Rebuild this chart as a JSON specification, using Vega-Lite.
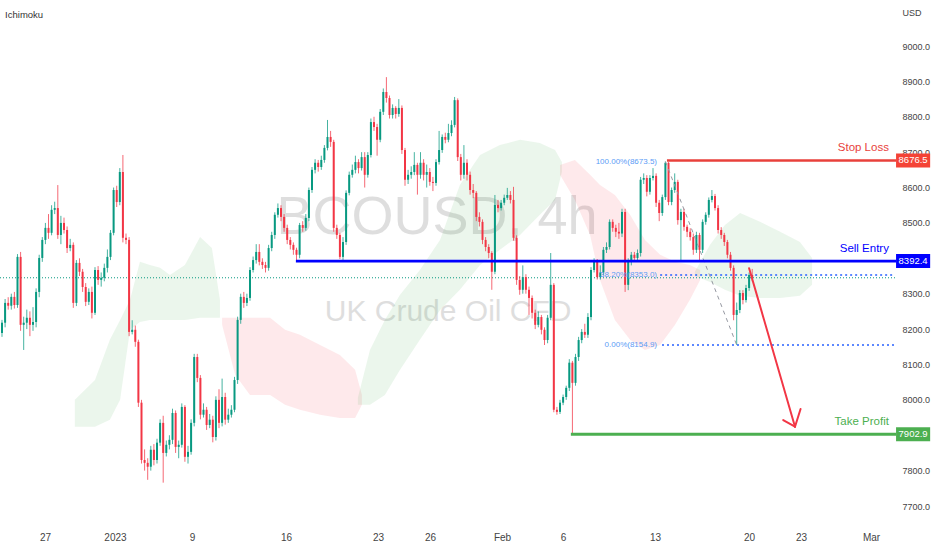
{
  "$schema": "https://vega.github.io/schema/vega-lite/v6.json",
  "width": 895,
  "height": 522,
  "padding": {"left": 0, "top": 0, "right": 37, "bottom": 28},
  "autosize": {"type": "none"},
  "background": "white",
  "config": {"view": {"stroke": null}, "font": "Liberation Sans, Arial, sans-serif"},
  "datasets": {
    "candles": [
{"i":0,"o":8189,"h":8226,"l":8178,"c":8218},
{"i":1,"o":8218,"h":8285,"l":8205,"c":8274},
{"i":2,"o":8274,"h":8290,"l":8255,"c":8266},
{"i":3,"o":8266,"h":8300,"l":8255,"c":8291},
{"i":4,"o":8291,"h":8305,"l":8258,"c":8268},
{"i":5,"o":8268,"h":8412,"l":8260,"c":8404},
{"i":6,"o":8404,"h":8418,"l":8195,"c":8212},
{"i":7,"o":8212,"h":8235,"l":8141,"c":8218},
{"i":8,"o":8218,"h":8255,"l":8200,"c":8232},
{"i":9,"o":8232,"h":8250,"l":8180,"c":8212},
{"i":10,"o":8212,"h":8262,"l":8195,"c":8220},
{"i":11,"o":8220,"h":8315,"l":8205,"c":8305},
{"i":12,"o":8305,"h":8410,"l":8290,"c":8401},
{"i":13,"o":8401,"h":8460,"l":8390,"c":8452},
{"i":14,"o":8452,"h":8500,"l":8440,"c":8486},
{"i":15,"o":8486,"h":8525,"l":8455,"c":8472},
{"i":16,"o":8472,"h":8550,"l":8465,"c":8537},
{"i":17,"o":8537,"h":8560,"l":8525,"c":8542},
{"i":18,"o":8542,"h":8607,"l":8455,"c":8466},
{"i":19,"o":8466,"h":8520,"l":8440,"c":8500},
{"i":20,"o":8500,"h":8515,"l":8470,"c":8480},
{"i":21,"o":8480,"h":8490,"l":8415,"c":8429},
{"i":22,"o":8429,"h":8455,"l":8420,"c":8438},
{"i":23,"o":8438,"h":8445,"l":8260,"c":8274},
{"i":24,"o":8274,"h":8395,"l":8265,"c":8387},
{"i":25,"o":8387,"h":8400,"l":8350,"c":8362},
{"i":26,"o":8362,"h":8370,"l":8305,"c":8319},
{"i":27,"o":8319,"h":8330,"l":8265,"c":8277},
{"i":28,"o":8277,"h":8315,"l":8268,"c":8305},
{"i":29,"o":8305,"h":8320,"l":8230,"c":8246},
{"i":30,"o":8246,"h":8375,"l":8240,"c":8367},
{"i":31,"o":8367,"h":8378,"l":8325,"c":8339},
{"i":32,"o":8339,"h":8360,"l":8320,"c":8345},
{"i":33,"o":8345,"h":8385,"l":8335,"c":8373},
{"i":34,"o":8373,"h":8425,"l":8360,"c":8404},
{"i":35,"o":8404,"h":8480,"l":8395,"c":8472},
{"i":36,"o":8472,"h":8600,"l":8465,"c":8593},
{"i":37,"o":8593,"h":8605,"l":8545,"c":8559},
{"i":38,"o":8559,"h":8655,"l":8550,"c":8644},
{"i":39,"o":8644,"h":8692,"l":8445,"c":8458},
{"i":40,"o":8458,"h":8470,"l":8440,"c":8452},
{"i":41,"o":8452,"h":8460,"l":8180,"c":8192},
{"i":42,"o":8192,"h":8225,"l":8185,"c":8198},
{"i":43,"o":8198,"h":8210,"l":8150,"c":8164},
{"i":44,"o":8164,"h":8170,"l":7980,"c":7992},
{"i":45,"o":7992,"h":8000,"l":7820,"c":7830},
{"i":46,"o":7830,"h":7860,"l":7800,"c":7822},
{"i":47,"o":7822,"h":7835,"l":7774,"c":7811},
{"i":48,"o":7811,"h":7870,"l":7800,"c":7859},
{"i":49,"o":7859,"h":7875,"l":7815,"c":7830},
{"i":50,"o":7830,"h":7890,"l":7820,"c":7879},
{"i":51,"o":7879,"h":7945,"l":7870,"c":7935},
{"i":52,"o":7935,"h":7955,"l":7766,"c":7850},
{"i":53,"o":7850,"h":7885,"l":7840,"c":7873},
{"i":54,"o":7873,"h":7900,"l":7860,"c":7887},
{"i":55,"o":7887,"h":7975,"l":7875,"c":7963},
{"i":56,"o":7963,"h":7970,"l":7850,"c":7867},
{"i":57,"o":7867,"h":7885,"l":7835,"c":7873},
{"i":58,"o":7873,"h":7990,"l":7865,"c":7980},
{"i":59,"o":7980,"h":7985,"l":7825,"c":7839},
{"i":60,"o":7839,"h":7870,"l":7820,"c":7853},
{"i":61,"o":7853,"h":7945,"l":7845,"c":7935},
{"i":62,"o":7935,"h":8130,"l":7925,"c":8121},
{"i":63,"o":8121,"h":8130,"l":8050,"c":8062},
{"i":64,"o":8062,"h":8070,"l":7945,"c":7958},
{"i":65,"o":7958,"h":7990,"l":7950,"c":7972},
{"i":66,"o":7972,"h":7980,"l":7915,"c":7929},
{"i":67,"o":7929,"h":7960,"l":7920,"c":7944},
{"i":68,"o":7944,"h":7955,"l":7880,"c":7895},
{"i":69,"o":7895,"h":8010,"l":7885,"c":8000},
{"i":70,"o":8000,"h":8030,"l":7920,"c":7935},
{"i":71,"o":7935,"h":8060,"l":7925,"c":8008},
{"i":72,"o":8008,"h":8020,"l":7930,"c":7944},
{"i":73,"o":7944,"h":7975,"l":7935,"c":7958},
{"i":74,"o":7958,"h":7985,"l":7950,"c":7972},
{"i":75,"o":7972,"h":8065,"l":7965,"c":8056},
{"i":76,"o":8056,"h":8235,"l":8045,"c":8226},
{"i":77,"o":8226,"h":8300,"l":8215,"c":8291},
{"i":78,"o":8291,"h":8305,"l":8260,"c":8274},
{"i":79,"o":8274,"h":8300,"l":8265,"c":8288},
{"i":80,"o":8288,"h":8375,"l":8280,"c":8367},
{"i":81,"o":8367,"h":8405,"l":8360,"c":8395},
{"i":82,"o":8395,"h":8440,"l":8385,"c":8418},
{"i":83,"o":8418,"h":8440,"l":8380,"c":8390},
{"i":84,"o":8390,"h":8400,"l":8370,"c":8381},
{"i":85,"o":8381,"h":8390,"l":8360,"c":8373},
{"i":86,"o":8373,"h":8438,"l":8365,"c":8429},
{"i":87,"o":8429,"h":8475,"l":8420,"c":8466},
{"i":88,"o":8466,"h":8530,"l":8455,"c":8523},
{"i":89,"o":8523,"h":8555,"l":8515,"c":8542},
{"i":90,"o":8542,"h":8550,"l":8505,"c":8517},
{"i":91,"o":8517,"h":8525,"l":8475,"c":8486},
{"i":92,"o":8486,"h":8495,"l":8440,"c":8452},
{"i":93,"o":8452,"h":8460,"l":8425,"c":8438},
{"i":94,"o":8438,"h":8445,"l":8410,"c":8424},
{"i":95,"o":8424,"h":8430,"l":8392,"c":8410},
{"i":96,"o":8410,"h":8500,"l":8400,"c":8494},
{"i":97,"o":8494,"h":8505,"l":8475,"c":8486},
{"i":98,"o":8486,"h":8525,"l":8478,"c":8514},
{"i":99,"o":8514,"h":8600,"l":8505,"c":8593},
{"i":100,"o":8593,"h":8658,"l":8585,"c":8650},
{"i":101,"o":8650,"h":8680,"l":8640,"c":8670},
{"i":102,"o":8670,"h":8678,"l":8645,"c":8658},
{"i":103,"o":8658,"h":8690,"l":8650,"c":8678},
{"i":104,"o":8678,"h":8720,"l":8670,"c":8712},
{"i":105,"o":8712,"h":8791,"l":8705,"c":8743},
{"i":106,"o":8743,"h":8760,"l":8715,"c":8729},
{"i":107,"o":8729,"h":8735,"l":8475,"c":8486},
{"i":108,"o":8486,"h":8495,"l":8455,"c":8466},
{"i":109,"o":8466,"h":8472,"l":8398,"c":8404},
{"i":110,"o":8404,"h":8460,"l":8395,"c":8446},
{"i":111,"o":8446,"h":8592,"l":8438,"c":8585},
{"i":112,"o":8585,"h":8645,"l":8578,"c":8636},
{"i":113,"o":8636,"h":8665,"l":8628,"c":8650},
{"i":114,"o":8650,"h":8690,"l":8640,"c":8672},
{"i":115,"o":8672,"h":8680,"l":8640,"c":8655},
{"i":116,"o":8655,"h":8700,"l":8648,"c":8686},
{"i":117,"o":8686,"h":8700,"l":8600,"c":8636},
{"i":118,"o":8636,"h":8700,"l":8628,"c":8692},
{"i":119,"o":8692,"h":8795,"l":8685,"c":8785},
{"i":120,"o":8785,"h":8800,"l":8760,"c":8771},
{"i":121,"o":8771,"h":8780,"l":8690,"c":8735},
{"i":122,"o":8735,"h":8822,"l":8728,"c":8814},
{"i":123,"o":8814,"h":8880,"l":8805,"c":8870},
{"i":124,"o":8870,"h":8912,"l":8840,"c":8853},
{"i":125,"o":8853,"h":8860,"l":8795,"c":8805},
{"i":126,"o":8805,"h":8835,"l":8795,"c":8825},
{"i":127,"o":8825,"h":8830,"l":8795,"c":8808},
{"i":128,"o":8808,"h":8850,"l":8800,"c":8825},
{"i":129,"o":8825,"h":8832,"l":8695,"c":8706},
{"i":130,"o":8706,"h":8712,"l":8605,"c":8622},
{"i":131,"o":8622,"h":8650,"l":8610,"c":8636},
{"i":132,"o":8636,"h":8660,"l":8625,"c":8644},
{"i":133,"o":8644,"h":8700,"l":8635,"c":8664},
{"i":134,"o":8664,"h":8670,"l":8580,"c":8636},
{"i":135,"o":8636,"h":8700,"l":8625,"c":8670},
{"i":136,"o":8670,"h":8680,"l":8620,"c":8636},
{"i":137,"o":8636,"h":8665,"l":8600,"c":8644},
{"i":138,"o":8644,"h":8655,"l":8605,"c":8616},
{"i":139,"o":8616,"h":8630,"l":8590,"c":8613},
{"i":140,"o":8613,"h":8680,"l":8605,"c":8672},
{"i":141,"o":8672,"h":8760,"l":8665,"c":8706},
{"i":142,"o":8706,"h":8750,"l":8698,"c":8743},
{"i":143,"o":8743,"h":8755,"l":8725,"c":8735},
{"i":144,"o":8735,"h":8780,"l":8728,"c":8754},
{"i":145,"o":8754,"h":8790,"l":8745,"c":8777},
{"i":146,"o":8777,"h":8856,"l":8770,"c":8847},
{"i":147,"o":8847,"h":8852,"l":8675,"c":8686},
{"i":148,"o":8686,"h":8695,"l":8620,"c":8636},
{"i":149,"o":8636,"h":8720,"l":8625,"c":8670},
{"i":150,"o":8670,"h":8680,"l":8620,"c":8636},
{"i":151,"o":8636,"h":8645,"l":8580,"c":8593},
{"i":152,"o":8593,"h":8610,"l":8570,"c":8585},
{"i":153,"o":8585,"h":8590,"l":8505,"c":8517},
{"i":154,"o":8517,"h":8530,"l":8490,"c":8503},
{"i":155,"o":8503,"h":8510,"l":8440,"c":8452},
{"i":156,"o":8452,"h":8460,"l":8420,"c":8432},
{"i":157,"o":8432,"h":8440,"l":8400,"c":8415},
{"i":158,"o":8415,"h":8420,"l":8311,"c":8362},
{"i":159,"o":8362,"h":8579,"l":8355,"c":8551},
{"i":160,"o":8551,"h":8565,"l":8530,"c":8542},
{"i":161,"o":8542,"h":8565,"l":8535,"c":8557},
{"i":162,"o":8557,"h":8580,"l":8550,"c":8571},
{"i":163,"o":8571,"h":8599,"l":8565,"c":8579},
{"i":164,"o":8579,"h":8590,"l":8555,"c":8565},
{"i":165,"o":8565,"h":8602,"l":8450,"c":8458},
{"i":166,"o":8458,"h":8465,"l":8325,"c":8339},
{"i":167,"o":8339,"h":8350,"l":8297,"c":8311},
{"i":168,"o":8311,"h":8380,"l":8300,"c":8347},
{"i":169,"o":8347,"h":8355,"l":8300,"c":8311},
{"i":170,"o":8311,"h":8320,"l":8240,"c":8288},
{"i":171,"o":8288,"h":8295,"l":8230,"c":8246},
{"i":172,"o":8246,"h":8255,"l":8200,"c":8212},
{"i":173,"o":8212,"h":8250,"l":8205,"c":8234},
{"i":174,"o":8234,"h":8240,"l":8185,"c":8198},
{"i":175,"o":8198,"h":8205,"l":8155,"c":8169},
{"i":176,"o":8169,"h":8240,"l":8160,"c":8232},
{"i":177,"o":8232,"h":8415,"l":8225,"c":8325},
{"i":178,"o":8325,"h":8330,"l":7965,"c":7972},
{"i":179,"o":7972,"h":7980,"l":7958,"c":7966},
{"i":180,"o":7966,"h":8000,"l":7960,"c":7992},
{"i":181,"o":7992,"h":8015,"l":7985,"c":8008},
{"i":182,"o":8008,"h":8040,"l":8000,"c":8034},
{"i":183,"o":8034,"h":8115,"l":8025,"c":8105},
{"i":184,"o":8105,"h":8110,"l":7903,"c":8048},
{"i":185,"o":8048,"h":8130,"l":8040,"c":8121},
{"i":186,"o":8121,"h":8178,"l":8110,"c":8169},
{"i":187,"o":8169,"h":8200,"l":8160,"c":8192},
{"i":188,"o":8192,"h":8215,"l":8175,"c":8184},
{"i":189,"o":8184,"h":8245,"l":8175,"c":8234},
{"i":190,"o":8234,"h":8375,"l":8225,"c":8367},
{"i":191,"o":8367,"h":8400,"l":8360,"c":8390},
{"i":192,"o":8390,"h":8398,"l":8340,"c":8347},
{"i":193,"o":8347,"h":8380,"l":8340,"c":8360},
{"i":194,"o":8360,"h":8432,"l":8352,"c":8424},
{"i":195,"o":8424,"h":8445,"l":8415,"c":8432},
{"i":196,"o":8432,"h":8510,"l":8425,"c":8503},
{"i":197,"o":8503,"h":8510,"l":8475,"c":8486},
{"i":198,"o":8486,"h":8495,"l":8460,"c":8475},
{"i":199,"o":8475,"h":8500,"l":8455,"c":8470},
{"i":200,"o":8470,"h":8540,"l":8460,"c":8531},
{"i":201,"o":8531,"h":8540,"l":8305,"c":8325},
{"i":202,"o":8325,"h":8400,"l":8310,"c":8390},
{"i":203,"o":8390,"h":8418,"l":8380,"c":8410},
{"i":204,"o":8410,"h":8418,"l":8390,"c":8401},
{"i":205,"o":8401,"h":8425,"l":8392,"c":8415},
{"i":206,"o":8415,"h":8630,"l":8405,"c":8622},
{"i":207,"o":8622,"h":8640,"l":8610,"c":8627},
{"i":208,"o":8627,"h":8635,"l":8575,"c":8588},
{"i":209,"o":8588,"h":8635,"l":8580,"c":8627},
{"i":210,"o":8627,"h":8655,"l":8620,"c":8633},
{"i":211,"o":8633,"h":8640,"l":8545,"c":8557},
{"i":212,"o":8557,"h":8565,"l":8505,"c":8528},
{"i":213,"o":8528,"h":8580,"l":8520,"c":8573},
{"i":214,"o":8573,"h":8673.5,"l":8565,"c":8670},
{"i":215,"o":8670,"h":8672,"l":8550,"c":8559},
{"i":216,"o":8559,"h":8600,"l":8550,"c":8593},
{"i":217,"o":8593,"h":8640,"l":8585,"c":8616},
{"i":218,"o":8616,"h":8622,"l":8495,"c":8508},
{"i":219,"o":8508,"h":8540,"l":8390,"c":8531},
{"i":220,"o":8531,"h":8540,"l":8478,"c":8489},
{"i":221,"o":8489,"h":8495,"l":8460,"c":8475},
{"i":222,"o":8475,"h":8485,"l":8450,"c":8460},
{"i":223,"o":8460,"h":8470,"l":8410,"c":8424},
{"i":224,"o":8424,"h":8475,"l":8415,"c":8466},
{"i":225,"o":8466,"h":8472,"l":8395,"c":8424},
{"i":226,"o":8424,"h":8510,"l":8415,"c":8503},
{"i":227,"o":8503,"h":8530,"l":8495,"c":8523},
{"i":228,"o":8523,"h":8572,"l":8515,"c":8565},
{"i":229,"o":8565,"h":8593,"l":8558,"c":8576},
{"i":230,"o":8576,"h":8582,"l":8535,"c":8542},
{"i":231,"o":8542,"h":8550,"l":8470,"c":8480},
{"i":232,"o":8480,"h":8488,"l":8455,"c":8466},
{"i":233,"o":8466,"h":8472,"l":8435,"c":8446},
{"i":234,"o":8446,"h":8452,"l":8400,"c":8410},
{"i":235,"o":8410,"h":8418,"l":8365,"c":8373},
{"i":236,"o":8373,"h":8380,"l":8225,"c":8240},
{"i":237,"o":8240,"h":8275,"l":8154.9,"c":8254},
{"i":238,"o":8254,"h":8310,"l":8245,"c":8302},
{"i":239,"o":8302,"h":8310,"l":8270,"c":8282},
{"i":240,"o":8282,"h":8325,"l":8275,"c":8316},
{"i":241,"o":8316,"h":8360,"l":8308,"c":8353},
{"i":242,"o":8353,"h":8370,"l":8335,"c":8345}
    ],
    "cloud": [
{"seg":"G1","kind":"up","i":23.5,"top":8000,"bot":7924},
{"seg":"G1","kind":"up","i":30.0,"top":8056,"bot":7924},
{"seg":"G1","kind":"up","i":34.8,"top":8170,"bot":7944},
{"seg":"G1","kind":"up","i":38.1,"top":8226,"bot":8000},
{"seg":"G1","kind":"up","i":41.3,"top":8283,"bot":8198},
{"seg":"G1","kind":"up","i":44.5,"top":8390,"bot":8220},
{"seg":"G1","kind":"up","i":47.7,"top":8381,"bot":8226},
{"seg":"G1","kind":"up","i":51.0,"top":8373,"bot":8226},
{"seg":"G1","kind":"up","i":54.2,"top":8353,"bot":8226},
{"seg":"G1","kind":"up","i":59.0,"top":8381,"bot":8226},
{"seg":"G1","kind":"up","i":63.9,"top":8460,"bot":8232},
{"seg":"G1","kind":"up","i":67.7,"top":8429,"bot":8232},
{"seg":"G1","kind":"up","i":70.3,"top":8283,"bot":8232},
{"seg":"R1","kind":"down","i":71.0,"top":8232,"bot":8212},
{"seg":"R1","kind":"down","i":75.2,"top":8232,"bot":8071},
{"seg":"R1","kind":"down","i":80.0,"top":8232,"bot":8014},
{"seg":"R1","kind":"down","i":86.5,"top":8232,"bot":8014},
{"seg":"R1","kind":"down","i":91.3,"top":8198,"bot":7986},
{"seg":"R1","kind":"down","i":96.1,"top":8184,"bot":7972},
{"seg":"R1","kind":"down","i":102.6,"top":8155,"bot":7958},
{"seg":"R1","kind":"down","i":109.0,"top":8127,"bot":7949},
{"seg":"R1","kind":"down","i":113.9,"top":8085,"bot":7949},
{"seg":"R1","kind":"down","i":116.1,"top":8014,"bot":7986},
{"seg":"G2","kind":"up","i":114.8,"top":8006,"bot":7986},
{"seg":"G2","kind":"up","i":118.7,"top":8141,"bot":7986},
{"seg":"G2","kind":"up","i":123.5,"top":8226,"bot":8014},
{"seg":"G2","kind":"up","i":128.4,"top":8297,"bot":8085},
{"seg":"G2","kind":"up","i":134.8,"top":8367,"bot":8170},
{"seg":"G2","kind":"up","i":141.3,"top":8452,"bot":8254},
{"seg":"G2","kind":"up","i":147.7,"top":8607,"bot":8311},
{"seg":"G2","kind":"up","i":154.2,"top":8692,"bot":8381},
{"seg":"G2","kind":"up","i":160.6,"top":8720,"bot":8424},
{"seg":"G2","kind":"up","i":167.1,"top":8735,"bot":8466},
{"seg":"G2","kind":"up","i":173.5,"top":8726,"bot":8523},
{"seg":"G2","kind":"up","i":178.4,"top":8706,"bot":8565},
{"seg":"G2","kind":"up","i":180.6,"top":8672,"bot":8644},
{"seg":"R2","kind":"down","i":180.0,"top":8664,"bot":8636},
{"seg":"R2","kind":"down","i":184.8,"top":8678,"bot":8565},
{"seg":"R2","kind":"down","i":189.7,"top":8636,"bot":8466},
{"seg":"R2","kind":"down","i":192.9,"top":8607,"bot":8339},
{"seg":"R2","kind":"down","i":197.7,"top":8579,"bot":8226},
{"seg":"R2","kind":"down","i":202.6,"top":8523,"bot":8170},
{"seg":"R2","kind":"down","i":207.4,"top":8452,"bot":8141},
{"seg":"R2","kind":"down","i":212.3,"top":8410,"bot":8155},
{"seg":"R2","kind":"down","i":217.1,"top":8390,"bot":8212},
{"seg":"R2","kind":"down","i":221.9,"top":8381,"bot":8283},
{"seg":"R2","kind":"down","i":225.2,"top":8367,"bot":8339},
{"seg":"G3","kind":"up","i":223.5,"top":8362,"bot":8350},
{"seg":"G3","kind":"up","i":228.4,"top":8438,"bot":8333},
{"seg":"G3","kind":"up","i":233.2,"top":8494,"bot":8311},
{"seg":"G3","kind":"up","i":238.1,"top":8528,"bot":8294},
{"seg":"G3","kind":"up","i":244.5,"top":8503,"bot":8288},
{"seg":"G3","kind":"up","i":251.0,"top":8475,"bot":8288},
{"seg":"G3","kind":"up","i":257.4,"top":8446,"bot":8294},
{"seg":"G3","kind":"up","i":261.3,"top":8401,"bot":8325}
    ],
    "levels": [
      {"name": "Stop Loss", "price": 8676.5, "from": 214.5},
      {"name": "Sell Entry", "price": 8392.4, "from": 94.8},
      {"name": "Take Profit", "price": 7902.9, "from": 183.5}
    ],
    "fib": [
      {"label": "100.00%(8673.5)", "price": 8673.5, "from": 214.5},
      {"label": "38.20%(8353.0)", "price": 8353.0, "from": 212.3},
      {"label": "0.00%(8154.9)", "price": 8154.9, "from": 212.9}
    ],
    "fibline": [{"i1": 214, "p1": 8673.5, "i2": 237, "p2": 8154.9}],
    "arrow": [
      {"i1": 241.0, "p1": 8372, "i2": 255.8, "p2": 7924},
      {"i1": 255.8, "p1": 7924, "i2": 252.0, "p2": 7943},
      {"i1": 255.8, "p1": 7924, "i2": 257.6, "p2": 7974}
    ],
    "last": [{"price": 8345}]
  },
  "resolve": {"scale": {"color": "independent", "size": "independent"}},
  "layer": [
    {
      "data": {"values": [{}]},
      "mark": {"type": "text", "text": "BCOUSD, 4h", "fontSize": 54, "color": "#9e9e9e", "opacity": 0.33, "align": "center", "baseline": "middle"},
      "encoding": {
        "x": {"datum": 140.3, "type": "quantitative", "scale": {"domain": [-0.645, 288.06], "nice": false, "zero": false}},
        "y": {"datum": 8514, "type": "quantitative", "scale": {"domain": [7654.8, 9130], "nice": false, "zero": false}}
      }
    },
    {
      "data": {"values": [{}]},
      "mark": {"type": "text", "text": "UK Crude Oil CFD", "fontSize": 30, "color": "#9e9e9e", "opacity": 0.33, "align": "center", "baseline": "middle"},
      "encoding": {
        "x": {"datum": 143.9, "type": "quantitative"},
        "y": {"datum": 8249, "type": "quantitative"}
      }
    },
    {
      "data": {"name": "cloud"},
      "mark": {"type": "area", "opacity": 0.11},
      "encoding": {
        "x": {"field": "i", "type": "quantitative"},
        "y": {"field": "top", "type": "quantitative"},
        "y2": {"field": "bot"},
        "detail": {"field": "seg"},
        "color": {"field": "kind", "type": "nominal", "scale": {"domain": ["up", "down"], "range": ["#4caf50", "#f23645"]}, "legend": null}
      }
    },
    {
      "data": {"name": "last"},
      "mark": {"type": "rule", "color": "#089981", "strokeWidth": 1, "strokeDash": [1, 2]},
      "encoding": {"y": {"field": "price", "type": "quantitative"}}
    },
    {
      "data": {"name": "candles"},
      "mark": {"type": "rule", "strokeWidth": 1, "opacity": 0.75},
      "encoding": {
        "x": {"field": "i", "type": "quantitative", "scale": {"domain": [-0.645, 288.06], "nice": false, "zero": false},
          "axis": {"orient": "bottom", "title": null, "grid": false, "domain": false, "ticks": false, "labelPadding": 10, "labelFontSize": 10, "labelColor": "#444444", "labelOverlap": false, "labelFlush": false,
            "values": [13.87, 36.45, 61.29, 91.61, 121.29, 138.06, 161.29, 180.97, 210.65, 240.97, 257.74, 280.32],
            "labelExpr": "datum.value < 20 ? '27' : datum.value < 50 ? '2023' : datum.value < 70 ? '9' : datum.value < 100 ? '16' : datum.value < 130 ? '23' : datum.value < 150 ? '26' : datum.value < 170 ? 'Feb' : datum.value < 190 ? '6' : datum.value < 220 ? '13' : datum.value < 250 ? '20' : datum.value < 270 ? '23' : 'Mar'"}},
        "y": {"field": "l", "type": "quantitative", "scale": {"domain": [7654.8, 9130], "nice": false, "zero": false},
          "axis": {"orient": "right", "grid": false, "domain": false, "ticks": false, "labelPadding": 7, "labelAlign": "left", "labelFontSize": 9, "labelColor": "#444444", "labelOverlap": false, "labelFlush": false, "format": ".1f",
            "values": [7700, 7800, 8000, 8100, 8200, 8300, 8500, 8600, 8700, 8800, 8900, 9000],
            "title": "USD", "titleAngle": 0, "titleAnchor": "end", "titleAlign": "left", "titleBaseline": "middle", "titleX": 7, "titleY": 12, "titleFontSize": 9, "titleFontWeight": "normal", "titleColor": "#444444"}},
        "y2": {"field": "h"},
        "color": {"condition": {"test": "datum.c >= datum.o", "value": "#089981"}, "value": "#f23645"}
      }
    },
    {
      "data": {"name": "candles"},
      "mark": {"type": "rule", "strokeWidth": 2},
      "encoding": {
        "x": {"field": "i", "type": "quantitative"},
        "y": {"field": "o", "type": "quantitative"},
        "y2": {"field": "c"},
        "color": {"condition": {"test": "datum.c >= datum.o", "value": "#089981"}, "value": "#f23645"}
      }
    },
    {
      "data": {"name": "fib"},
      "transform": [{"filter": "datum.price < 8600"}],
      "mark": {"type": "rule", "color": "#2962ff", "strokeWidth": 1.5, "strokeDash": [2, 3]},
      "encoding": {
        "x": {"field": "from", "type": "quantitative"},
        "x2": {"datum": 288.06},
        "y": {"field": "price", "type": "quantitative"}
      }
    },
    {
      "data": {"name": "fib"},
      "mark": {"type": "text", "color": "#5b9cf6", "fontSize": 8, "align": "right", "baseline": "middle"},
      "encoding": {
        "x": {"datum": 211.3, "type": "quantitative"},
        "y": {"field": "price", "type": "quantitative"},
        "text": {"field": "label"}
      }
    },
    {
      "data": {"name": "fibline"},
      "mark": {"type": "rule", "color": "#9598a1", "strokeWidth": 1, "strokeDash": [4, 4]},
      "encoding": {
        "x": {"field": "i1", "type": "quantitative"},
        "y": {"field": "p1", "type": "quantitative"},
        "x2": {"field": "i2"},
        "y2": {"field": "p2"}
      }
    },
    {
      "data": {"name": "levels"},
      "mark": {"type": "rule"},
      "encoding": {
        "x": {"field": "from", "type": "quantitative"},
        "x2": {"datum": 288.4},
        "y": {"field": "price", "type": "quantitative"},
        "color": {"field": "name", "type": "nominal", "scale": {"domain": ["Stop Loss", "Sell Entry", "Take Profit"], "range": ["#e8413b", "#0000ff", "#4caf50"]}, "legend": null},
        "size": {"field": "name", "type": "nominal", "scale": {"domain": ["Stop Loss", "Sell Entry", "Take Profit"], "range": [2.5, 3, 2.5]}, "legend": null}
      }
    },
    {
      "data": {"name": "arrow"},
      "mark": {"type": "rule", "color": "#f23645", "strokeWidth": 2, "strokeCap": "round"},
      "encoding": {
        "x": {"field": "i1", "type": "quantitative"},
        "y": {"field": "p1", "type": "quantitative"},
        "x2": {"field": "i2"},
        "y2": {"field": "p2"}
      }
    },
    {
      "data": {"name": "levels"},
      "mark": {"type": "text", "fontSize": 11.5, "align": "right", "baseline": "middle", "dy": -12},
      "encoding": {
        "x": {"datum": 286.1, "type": "quantitative"},
        "y": {"field": "price", "type": "quantitative"},
        "text": {"field": "name"},
        "color": {"field": "name", "type": "nominal", "scale": {"domain": ["Stop Loss", "Sell Entry", "Take Profit"], "range": ["#e8413b", "#0000ff", "#4caf50"]}, "legend": null}
      }
    },
    {
      "data": {"name": "levels"},
      "mark": {"type": "rule", "strokeWidth": 14, "strokeCap": "butt"},
      "encoding": {
        "x": {"datum": 288.4, "type": "quantitative"},
        "x2": {"datum": 299.4},
        "y": {"field": "price", "type": "quantitative"},
        "color": {"field": "name", "type": "nominal", "scale": {"domain": ["Stop Loss", "Sell Entry", "Take Profit"], "range": ["#f44336", "#0000ff", "#4caf50"]}, "legend": null}
      }
    },
    {
      "data": {"name": "levels"},
      "mark": {"type": "text", "fontSize": 9.5, "color": "white", "align": "center", "baseline": "middle"},
      "encoding": {
        "x": {"datum": 293.9, "type": "quantitative"},
        "y": {"field": "price", "type": "quantitative"},
        "text": {"field": "price", "format": ".1f"}
      }
    },
    {
      "data": {"values": [{}]},
      "mark": {"type": "text", "text": "Ichimoku", "fontSize": 9.5, "color": "#333333", "align": "left", "baseline": "middle"},
      "encoding": {
        "x": {"datum": 1.0, "type": "quantitative"},
        "y": {"datum": 9088, "type": "quantitative"}
      }
    }
  ]
}
